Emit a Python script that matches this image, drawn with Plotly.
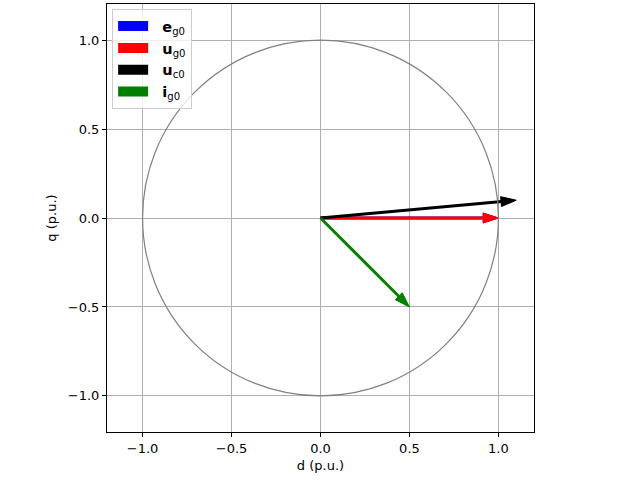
import plotly.graph_objects as go

names = ["<b>e</b><sub>g0</sub>", "<b>u</b><sub>g0</sub>", "<b>u</b><sub>c0</sub>", "<b>i</b><sub>g0</sub>"]
colors = ["blue", "red", "black", "green"]
d_vals = [1.0, 1.0, 1.10, 0.5]
q_vals = [0.0, 0.0, 0.10, -0.5]

tick_vals = [-1.0, -0.5, 0.0, 0.5, 1.0]
tick_text = ["\u22121.0", "\u22120.5", "0.0", "0.5", "1.0"]

fig = go.Figure()

for n, c in zip(names, colors):
    fig.add_trace(go.Scatter(x=[None], y=[None], mode="lines", name="  " + n,
                             line=dict(color=c, width=10)))

fig.add_shape(type="circle", xref="x", yref="y", x0=-1, y0=-1, x1=1, y1=1,
              line=dict(color="gray", width=1.2), layer="above")

for d, q, c in zip(d_vals, q_vals, colors):
    fig.add_trace(go.Scatter(x=[0, d], y=[0, q], mode="lines+markers", showlegend=False,
                             hoverinfo="skip",
                             line=dict(color=c, width=3),
                             marker=dict(symbol=["circle", "arrow"], size=[0, 16],
                                         angleref="previous", color=c, opacity=1,
                                         line=dict(width=1, color=c))))

axis_common = dict(range=[-1.2, 1.2], tickvals=tick_vals, ticktext=tick_text,
                   showgrid=True, gridcolor="#b0b0b0", gridwidth=0.8,
                   zeroline=False, showline=True, linecolor="black", linewidth=1,
                   mirror=True, ticks="outside", ticklen=4, tickcolor="black",
                   tickfont=dict(size=13, color="black"))

fig.update_layout(
    width=640, height=480,
    margin=dict(l=107, r=106, t=4, b=48),
    plot_bgcolor="white", paper_bgcolor="white",
    font=dict(family="DejaVu Sans", size=13, color="black"),
    xaxis=dict(axis_common, title=dict(text="d (p.u.)", font=dict(size=13), standoff=6)),
    yaxis=dict(axis_common, title=dict(text="q (p.u.)", font=dict(size=13), standoff=8),
               scaleanchor="x", scaleratio=1),
    legend=dict(x=0.012, y=0.988, xanchor="left", yanchor="top",
                bgcolor="rgba(255,255,255,0.8)", bordercolor="#cccccc", borderwidth=1,
                font=dict(size=14.5), itemwidth=30),
    showlegend=True,
)

fig.write_html("out.html")
